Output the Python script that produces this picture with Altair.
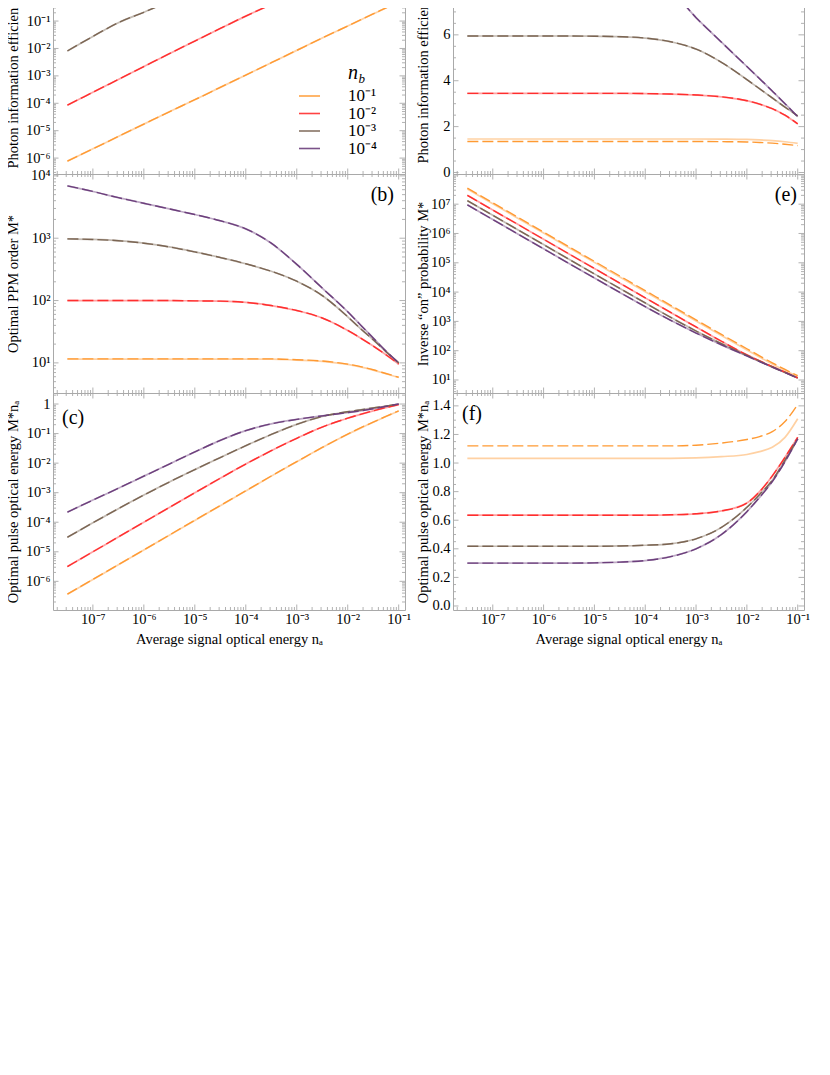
import math
import altair as alt
import pandas as pd

# ---------------- data ----------------
# x grid: average signal optical energy n_a
NA = [3.162e-8, 1.0e-7, 3.162e-7, 1.0e-6, 3.162e-6, 1.0e-5, 3.162e-5, 1.0e-4,
      3.162e-4, 1.0e-3, 3.162e-3, 1.0e-2, 1.778e-2, 3.162e-2, 5.623e-2, 1.0e-1]
NB = ["10⁻¹", "10⁻²", "10⁻³", "10⁻⁴"]
COLORS = ["#ff9a33", "#ff2e2e", "#7b6553", "#6c3f7c"]

# (a) photon information efficiency, log10 values (upper part is cropped)
A1 = [-6.11, -5.66, -5.21, -4.76, -4.31, -3.87, -3.42, -2.97, -2.52, -2.07, -1.62, -1.18, -0.96, -0.74, -0.52, -0.30]
A2 = [-4.07, -3.60, -3.13, -2.66, -2.19, -1.73, -1.27, -0.82, -0.40, -0.05, 0.10, 0.20, 0.22, 0.20, 0.15, 0.10]
A3 = [-2.09, -1.56, -1.06, -0.68, -0.29, 0.00, 0.15, 0.25, 0.30, 0.33, 0.35, 0.35, 0.35, 0.35, 0.35, 0.35]
A4 = [-0.27, 0.00, 0.15, 0.25, 0.30, 0.33, 0.36, 0.38, 0.39, 0.40, 0.40, 0.40, 0.40, 0.40, 0.40, 0.40]

# (b) optimal PPM order M*, log10 values
B1_SOLID = [1.06, 1.06, 1.06, 1.06, 1.06, 1.06, 1.06, 1.06, 1.06, 1.045, 1.025, 0.975, 0.935, 0.885, 0.825, 0.765]
B1_DASH = [1.065, 1.065, 1.065, 1.065, 1.065, 1.065, 1.065, 1.065, 1.065, 1.05, 1.03, 0.98, 0.94, 0.89, 0.83, 0.77]
B2 = [2.00, 2.00, 2.00, 2.00, 2.00, 1.995, 1.99, 1.97, 1.92, 1.84, 1.72, 1.52, 1.40, 1.27, 1.13, 0.98]
B3 = [2.99, 2.98, 2.96, 2.92, 2.86, 2.78, 2.69, 2.59, 2.47, 2.31, 2.08, 1.74, 1.55, 1.37, 1.18, 1.00]
B4 = [3.84, 3.75, 3.65, 3.56, 3.47, 3.38, 3.28, 3.15, 2.92, 2.58, 2.20, 1.82, 1.61, 1.40, 1.19, 1.00]

# (c) optimal pulse optical energy M* n_a, log10 values
C1_SOLID = [-6.44, -5.94, -5.44, -4.94, -4.44, -3.94, -3.44, -2.94, -2.44, -1.955, -1.475, -1.025, -0.815, -0.615, -0.425, -0.235]
C1_DASH = [-6.435, -5.935, -5.435, -4.935, -4.435, -3.935, -3.435, -2.935, -2.435, -1.95, -1.47, -1.02, -0.81, -0.61, -0.42, -0.23]
C2 = [-5.50, -5.00, -4.50, -4.00, -3.50, -3.005, -2.51, -2.03, -1.58, -1.16, -0.78, -0.48, -0.35, -0.23, -0.12, -0.02]
C3 = [-4.51, -4.02, -3.54, -3.08, -2.64, -2.22, -1.81, -1.41, -1.03, -0.69, -0.42, -0.26, -0.20, -0.13, -0.07, 0.00]
C4 = [-3.66, -3.25, -2.85, -2.44, -2.03, -1.62, -1.23, -0.90, -0.67, -0.52, -0.40, -0.29, -0.23, -0.16, -0.08, 0.00]

# (d) photon information efficiency (linear, upper part cropped)
D1_SOLID = [1.46, 1.46, 1.46, 1.46, 1.46, 1.46, 1.46, 1.46, 1.46, 1.46, 1.455, 1.44, 1.42, 1.39, 1.34, 1.27]
D1_DASH = [1.35, 1.35, 1.35, 1.35, 1.35, 1.35, 1.35, 1.35, 1.35, 1.35, 1.345, 1.33, 1.31, 1.28, 1.23, 1.17]
D2 = [3.45, 3.45, 3.45, 3.45, 3.45, 3.45, 3.45, 3.44, 3.42, 3.38, 3.30, 3.13, 2.98, 2.78, 2.50, 2.12]
D3 = [5.95, 5.95, 5.95, 5.95, 5.95, 5.94, 5.92, 5.86, 5.70, 5.38, 4.80, 4.05, 3.65, 3.25, 2.85, 2.47]
D4 = [8.90, 8.90, 8.90, 8.90, 8.89, 8.86, 8.78, 8.55, 7.95, 6.75, 5.68, 4.62, 4.09, 3.55, 3.00, 2.43]

# (e) inverse "on" probability M*
E1_SOLID = [3.27e7, 1.033e7, 3.27e6, 1.033e6, 3.27e5, 1.033e5, 3.27e4, 1.033e4, 3.27e3, 1036, 330, 106, 60.7, 35.1, 21.0, 13.1]
E1_DASH = [3.54e7, 1.12e7, 3.54e6, 1.12e6, 3.54e5, 1.12e5, 3.54e4, 1.12e4, 3.54e3, 1125, 360, 116.5, 66.6, 38.6, 22.9, 14.1]
E2 = [2.01e7, 6.35e6, 2.01e6, 6.35e5, 2.01e5, 6.35e4, 2.01e4, 6.35e3, 2.02e3, 645, 210, 72, 45, 28.8, 18.5, 11.8]
E3 = [1.32e7, 4.18e6, 1.32e6, 4.18e5, 1.32e5, 4.18e4, 1.33e4, 4.25e3, 1.376e3, 470, 174, 69, 43.9, 27.8, 18.1, 11.7]
E4 = [9.49e6, 3.0e6, 9.49e5, 3.0e5, 9.49e4, 3.02e4, 9.71e3, 3.18e3, 1.09e3, 400, 158, 66, 42.7, 27.5, 18.0, 11.7]

# (f) optimal pulse optical energy M* n_a (linear)
F1_SOLID = [1.033, 1.033, 1.033, 1.033, 1.033, 1.033, 1.033, 1.033, 1.033, 1.036, 1.045, 1.06, 1.08, 1.11, 1.18, 1.31]
F1_DASH = [1.12, 1.12, 1.12, 1.12, 1.12, 1.12, 1.12, 1.12, 1.12, 1.125, 1.14, 1.165, 1.185, 1.22, 1.29, 1.41]
F2 = [0.635, 0.635, 0.635, 0.635, 0.635, 0.635, 0.635, 0.635, 0.638, 0.645, 0.665, 0.72, 0.80, 0.91, 1.04, 1.18]
F3 = [0.418, 0.418, 0.418, 0.418, 0.418, 0.418, 0.42, 0.425, 0.435, 0.47, 0.55, 0.69, 0.78, 0.88, 1.02, 1.17]
F4 = [0.30, 0.30, 0.30, 0.30, 0.30, 0.302, 0.307, 0.318, 0.345, 0.40, 0.50, 0.66, 0.76, 0.87, 1.01, 1.17]

Y_TITLES = ["Photon information efficiency", "Optimal PPM order M*",
            "Optimal pulse optical energy M*nₐ", "Photon information efficiency",
            "Inverse “on” probability M*", "Optimal pulse optical energy M*nₐ"]
X_TITLE = "Average signal optical energy nₐ"
TAGS = ["(b)", "(c)", "(e)", "(f)"]

# ---------------- styling ----------------
SERIF = "Liberation Serif"
FRAME = "#a9a9a9"
WL, WR = 352, 351
H1, H2, H3 = 219, 219, 217
XSCALE = alt.Scale(type="log", domain=[1.65e-8, 0.133])
CSCALE = alt.Scale(domain=NB, range=COLORS)

E = "round(log(datum.value)/LN10)"
LOG_LABEL = (f"{E} == 0 ? '1' : '10' + ({E} < 0 ? '⁻' : '') + "
             f"substring('⁰¹²³⁴⁵⁶⁷⁸⁹', abs({E}), abs({E}) + 1)")


def long_df(series, log):
    rows = []
    for nb, style, vals in series:
        for x, v in zip(NA, vals):
            rows.append({"na": x, "nb": nb, "style": style,
                         "val": 10.0 ** v if log else v})
    return pd.DataFrame(rows)


def log_ticks(lo, hi):
    major, minor = [], []
    for n in range(-10, 10):
        for k in range(1, 10):
            v = k * 10.0 ** n
            if lo * 0.9999 <= v <= hi * 1.0001:
                (major if k == 1 else minor).append(v)
    return major, minor


def lin_ticks(lo, hi, major_step, minor_step):
    major, minor = [], []
    ratio = round(major_step / minor_step)
    for i in range(math.ceil(lo / minor_step - 1e-9), math.floor(hi / minor_step + 1e-9) + 1):
        v = round(i * minor_step, 6)
        (major if i % ratio == 0 else minor).append(v)
    return major, minor


XMAJ, XMIN = log_ticks(1.65e-8, 0.133)
XLABELS = [1e-7, 1e-6, 1e-5, 1e-4, 1e-3, 1e-2, 1e-1]


def tick_layers(yscale, ymaj, ymin, w, h):
    out = []
    for vals, ln in ((XMAJ, 5.5), (XMIN, 3)):
        d = pd.DataFrame({"t": vals})
        for y0, y1 in ((h, h - ln), (0, ln)):
            out.append(alt.Chart(d).mark_rule(color=FRAME, strokeWidth=0.9).encode(
                x=alt.X("t:Q", scale=XSCALE, axis=None),
                y=alt.value(y0), y2=alt.value(y1)))
    for vals, ln in ((ymaj, 5.5), (ymin, 3)):
        d = pd.DataFrame({"t": vals})
        for x0, x1 in ((0, ln), (w, w - ln)):
            out.append(alt.Chart(d).mark_rule(color=FRAME, strokeWidth=0.9).encode(
                y=alt.Y("t:Q", scale=yscale, axis=None),
                x=alt.value(x0), x2=alt.value(x1)))
    return out


def text_layer(s, x, y, size, align="left", style="normal"):
    return alt.Chart(pd.DataFrame({"s": [s]})).mark_text(
        font=SERIF, fontSize=size, align=align, baseline="middle", fontStyle=style,
        color="black").encode(text="s:N", x=alt.value(x), y=alt.value(y))


def panel(df, yscale, yaxis, xaxis, ymaj, ymin, w, h, extra=(), indep_y=False):
    enc = dict(color=alt.Color("nb:N", scale=CSCALE, legend=None), detail="nb:N")
    solid = alt.Chart(df).transform_filter(alt.datum.style == "solid").mark_line(
        clip=True, strokeWidth=1.7, opacity=0.45, interpolate="monotone").encode(
        x=alt.X("na:Q", scale=XSCALE, axis=xaxis),
        y=alt.Y("val:Q", scale=yscale, axis=yaxis), **enc)
    dashed = alt.Chart(df).transform_filter(alt.datum.style == "dash").mark_line(
        clip=True, strokeWidth=1.4, strokeDash=[11, 4], interpolate="monotone").encode(
        x=alt.X("na:Q", scale=XSCALE, axis=None),
        y=alt.Y("val:Q", scale=yscale, axis=None), **enc)
    layers = [solid, dashed] + tick_layers(yscale, ymaj, ymin, w, h) + list(extra)
    ch = alt.layer(*layers).properties(width=w, height=h)
    if indep_y:
        return ch.resolve_scale(y="independent").resolve_axis(x="independent", y="independent")
    return ch.resolve_axis(x="independent", y="independent")


def yaxis(title, tx, ty, align="center", log=True, values=None, fmt=None):
    kw = dict(title=title, titleX=tx, titleY=ty, titleAlign=align, titleBaseline="middle",
              titleAngle=270, ticks=False, domain=False, grid=False, labelPadding=3,
              values=values)
    if log:
        kw["labelExpr"] = LOG_LABEL
    if fmt:
        kw["format"] = fmt
    return alt.Axis(**kw)


XAXIS = alt.Axis(values=XLABELS, labelExpr=LOG_LABEL, ticks=False, domain=False, grid=False,
                 labelPadding=2, title=X_TITLE, titlePadding=7)


def series(v1s, v1d, v2, v3, v4):
    return [(NB[0], "solid", v1s), (NB[0], "dash", v1d),
            (NB[1], "solid", v2), (NB[1], "dash", v2),
            (NB[2], "solid", v3), (NB[2], "dash", v3),
            (NB[3], "solid", v4), (NB[3], "dash", v4)]


# ---------------- panels ----------------
# (a)
da = [10 ** -6.58, 10 ** 1.41]
sa = alt.Scale(type="log", domain=da)
ma, mi = log_ticks(*da)
leg_df = pd.DataFrame({"nb": NB})
LEG_Y = alt.Y("nb:N", scale=alt.Scale(type="point", domain=NB, range=[141, 193.5], padding=0), axis=None)
legend_layers = [
    alt.Chart(leg_df).mark_rule(strokeWidth=1.6, opacity=0.9).encode(
        x=alt.value(246), x2=alt.value(267), y=LEG_Y,
        color=alt.Color("nb:N", scale=CSCALE, legend=None)),
    alt.Chart(leg_df).mark_text(font=SERIF, fontSize=17, align="left", baseline="middle",
                                color="black").encode(x=alt.value(295), y=LEG_Y, text="nb:N"),
    text_layer("n", 295, 118, 20, style="italic"),
    text_layer("b", 305.5, 124, 13, style="italic"),
]
pa = panel(long_df(series(A1, A1, A2, A3, A4), True), sa,
           yaxis(Y_TITLES[0], -40, 213, align="left", values=[10.0 ** k for k in range(-6, 2)]),
           None, ma, mi, WL, H1, legend_layers, indep_y=True)

# (b)
db = [10 ** 0.517, 10 ** 4.03]
sb = alt.Scale(type="log", domain=db)
ma, mi = log_ticks(*db)
pb = panel(long_df(series(B1_SOLID, B1_DASH, B2, B3, B4), True), sb,
           yaxis(Y_TITLES[1], -40, H2 / 2, values=[10, 100, 1000, 10000]),
           None, ma, mi, WL, H2, [text_layer(TAGS[0], 341, 21, 20, align="right")])

# (c)
dc = [10 ** -6.97, 10 ** 0.373]
sc = alt.Scale(type="log", domain=dc)
ma, mi = log_ticks(*dc)
pc = panel(long_df(series(C1_SOLID, C1_DASH, C2, C3, C4), True), sc,
           yaxis(Y_TITLES[2], -40, H3 / 2, values=[10.0 ** k for k in range(-6, 1)]),
           XAXIS, ma, mi, WL, H3, [text_layer(TAGS[1], 9, 25, 20)])

# (d)
dd = [-0.065, 9.48]
sd = alt.Scale(type="linear", domain=dd, nice=False, zero=False)
ma, mi = lin_ticks(dd[0], dd[1], 2, 0.5)
pd_ = panel(long_df(series(D1_SOLID, D1_DASH, D2, D3, D4), False), sd,
            yaxis(Y_TITLES[3], -30, 208, align="left", log=False, values=[0, 2, 4, 6, 8], fmt="d"),
            None, ma, mi, WR, H1)

# (e)
de = [10 ** 0.556, 10 ** 8.03]
se = alt.Scale(type="log", domain=de)
ma, mi = log_ticks(*de)
pe = panel(long_df(series(E1_SOLID, E1_DASH, E2, E3, E4), False), se,
           yaxis(Y_TITLES[4], -30, H2 / 2, values=[10.0 ** k for k in range(1, 8)]),
           None, ma, mi, WR, H2, [text_layer(TAGS[2], 344, 21, 20, align="right")])

# (f)
df_ = [-0.028, 1.49]
sf = alt.Scale(type="linear", domain=df_, nice=False, zero=False)
ma, mi = lin_ticks(df_[0], df_[1], 0.2, 0.05)
pf = panel(long_df(series(F1_SOLID, F1_DASH, F2, F3, F4), False), sf,
           yaxis(Y_TITLES[5], -30, H3 / 2, log=False,
                 values=[0, 0.2, 0.4, 0.6, 0.8, 1.0, 1.2, 1.4], fmt=".1f"),
           XAXIS, ma, mi, WR, H3, [text_layer(TAGS[3], 9, 21, 20)])

chart = alt.concat(pa, pd_, pb, pe, pc, pf, columns=2, bounds="flush",
                   spacing={"row": 0, "column": 48}).properties(
    padding={"left": -4, "top": -54, "right": 4, "bottom": 4}
).configure_view(stroke=FRAME, strokeWidth=1).configure_axis(
    labelFont=SERIF, labelFontSize=14.5, labelColor="black",
    titleFont=SERIF, titleFontSize=14.5, titleFontWeight="normal", titleColor="black")

chart.save("out.html", embed_options={"renderer": "svg", "actions": False})
